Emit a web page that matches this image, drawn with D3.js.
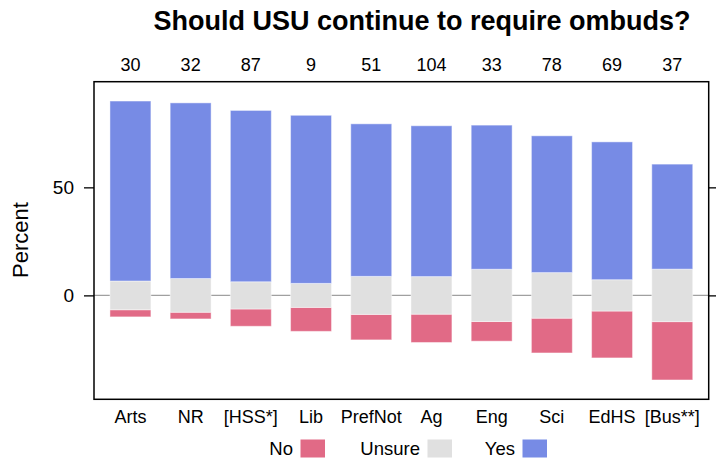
<!DOCTYPE html>
<html>
<head>
<meta charset="utf-8">
<script src="https://cdn.jsdelivr.net/npm/d3@7"></script>
<style>
  body { margin: 0; background: #fff; }
  svg { display: block; font-family: "Liberation Sans", Arial, sans-serif; }
</style>
</head>
<body>
<svg id="chart" width="716" height="458"></svg>
<script>
// data (percent of respondents)
const categories = ["Arts", "NR", "[HSS*]", "Lib", "PrefNot", "Ag", "Eng", "Sci", "EdHS", "[Bus**]"];
const counts = [30, 32, 87, 9, 51, 104, 33, 78, 69, 37];
const noPct = [3.3, 3.1, 8.0, 11.1, 11.8, 13.1, 9.1, 16.1, 21.7, 27.0];
const unsurePct = [13.3, 15.6, 12.6, 11.1, 17.6, 17.4, 24.2, 21.1, 14.5, 24.3];
const yesPct = [83.3, 81.3, 79.3, 77.8, 70.6, 69.8, 66.7, 63.3, 63.8, 48.6];
const legendLabels = ["No", "Unsure", "Yes"];
const yTicks = [0, 50];

const colors = { No: "#e16a86", Unsure: "#e0e0e0", Yes: "#778be5" };

const plotLeft = 94;
const plotRight = 708.7;
const plotTop = 81.7;
const plotBottom = 399.3;

const svg = d3.select("#chart");

const xScale = d3.scaleBand()
    .domain(categories)
    .range([plotLeft, plotRight])
    .paddingInner(0.32)
    .paddingOuter(0.265);

const yScale = d3.scaleLinear()
    .domain([-48.1, 98.9])
    .range([plotBottom, plotTop]);

// zero reference line
svg.append("line")
    .attr("x1", plotLeft).attr("x2", plotRight)
    .attr("y1", yScale(0)).attr("y2", yScale(0))
    .attr("stroke", "#a0a0a0").attr("stroke-width", 1.3);

// diverging stacks: unsure centred on zero
const rows = categories.map((c, i) => ({
    cat: c,
    segs: [
        { key: "No", lo: -unsurePct[i] / 2 - noPct[i], hi: -unsurePct[i] / 2 },
        { key: "Unsure", lo: -unsurePct[i] / 2, hi: unsurePct[i] / 2 },
        { key: "Yes", lo: unsurePct[i] / 2, hi: unsurePct[i] / 2 + yesPct[i] }
    ]
}));

svg.append("g").selectAll("g")
    .data(rows)
    .join("g")
    .selectAll("rect")
    .data((d) => d.segs.map((s) => ({ ...s, cat: d.cat })))
    .join("rect")
    .attr("x", (d) => xScale(d.cat))
    .attr("width", xScale.bandwidth())
    .attr("y", (d) => yScale(d.hi))
    .attr("height", (d) => yScale(d.lo) - yScale(d.hi))
    .attr("fill", (d) => colors[d.key])
    .attr("stroke", "#ffffff")
    .attr("stroke-opacity", 0.45)
    .attr("stroke-width", 1);

// axes
const fontSize = "18px";

const axLeft = svg.append("g")
    .attr("transform", `translate(${plotLeft},0)`)
    .call(d3.axisLeft(yScale).tickValues(yTicks).tickSize(10).tickPadding(10));
const axRight = svg.append("g")
    .attr("transform", `translate(${plotRight},0)`)
    .call(d3.axisRight(yScale).tickValues(yTicks).tickSize(10).tickFormat(""));
const axBottom = svg.append("g")
    .attr("transform", `translate(0,${plotBottom})`)
    .call(d3.axisBottom(xScale).tickSize(0).tickPadding(11));
const axTop = svg.append("g")
    .attr("transform", `translate(0,${plotTop})`)
    .call(d3.axisTop(xScale).tickSize(0).tickPadding(11)
        .tickFormat((d, i) => counts[i]));

[axLeft, axRight, axBottom, axTop].forEach((g) => {
    g.select(".domain").remove();
    g.selectAll("text").attr("font-size", fontSize).attr("fill", "#000")
        .attr("font-family", "Liberation Sans, Arial, sans-serif");
    g.selectAll("line").attr("stroke", "#000").attr("stroke-width", 1.3);
});
axLeft.selectAll("text").attr("font-size", "19px");

// plot box
svg.append("rect")
    .attr("x", plotLeft).attr("y", plotTop)
    .attr("width", plotRight - plotLeft).attr("height", plotBottom - plotTop)
    .attr("fill", "none").attr("stroke", "#000").attr("stroke-width", 1.5);

// y label
svg.append("text")
    .attr("transform", "translate(28,240) rotate(-90)")
    .attr("text-anchor", "middle")
    .attr("font-size", "22px")
    .text("Percent");

// title
svg.append("text")
    .attr("x", 422).attr("y", 29.5)
    .attr("text-anchor", "middle")
    .attr("font-size", "27px")
    .attr("font-weight", "bold")
    .text("Should USU continue to require ombuds?");

// legend
const legendX = [293, 420, 515];
const legend = svg.append("g");
legendLabels.forEach((lab, i) => {
    legend.append("text")
        .attr("x", legendX[i]).attr("y", 455)
        .attr("text-anchor", "end")
        .attr("font-size", "18.5px")
        .text(lab);
    legend.append("rect")
        .attr("x", legendX[i] + 7.5).attr("y", 439.5)
        .attr("width", 24.5).attr("height", 18)
        .attr("fill", colors[lab]);
});
</script>
</body>
</html>
